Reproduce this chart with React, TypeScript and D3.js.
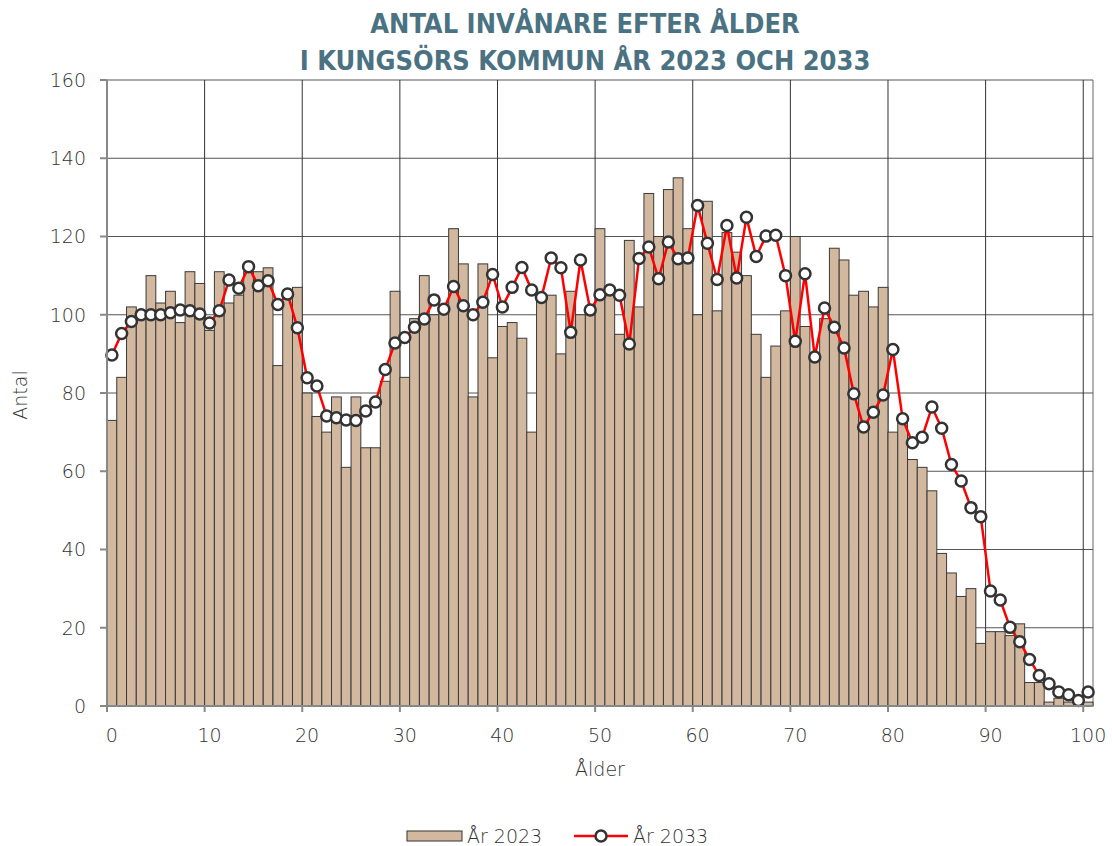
import React from "react"
import * as d3 from "d3"

// Antal invånare per ålder 0-100
const ages: number[] = d3.range(0, 101)

const year2023: number[] = [
  73, 84, 102, 101, 110, 103, 106, 98, 111, 108,
  96, 111, 103, 105, 111, 111, 112, 87, 105, 107,
  80, 74, 70, 79, 61, 79, 66, 66, 83, 106,
  84, 99, 110, 100, 101, 122, 113, 79, 113, 89,
  97, 98, 94, 70, 104, 105, 90, 106, 100, 100,
  122, 107, 95, 119, 102, 131, 120, 132, 135, 122,
  100, 129, 101, 121, 116, 110, 95, 84, 92, 101,
  120, 97, 90, 99, 117, 114, 105, 106, 102, 107,
  70, 73, 63, 61, 55, 39, 34, 28, 30, 16,
  19, 19, 18, 21, 6, 6, 1, 2, 1, 1,
  1,
]

const year2033: number[] = [
  89.7, 95.2, 98.3, 100, 100, 100, 100.5, 101.2, 101, 100.2,
  97.9, 101, 108.9, 106.8, 112.3, 107.4, 108.7, 102.6, 105.3, 96.7,
  83.9, 81.8, 74.1, 73.7, 73.1, 73, 75.4, 77.7, 86, 92.8,
  94.2, 96.8, 98.9, 103.8, 101.4, 107.2, 102.3, 100, 103.2, 110.3,
  102, 107, 112.1, 106.3, 104.4, 114.5, 112, 95.5, 114, 101.2,
  105.1, 106.3, 105, 92.5, 114.4, 117.3, 109.2, 118.6, 114.3, 114.5,
  127.9, 118.3, 109, 122.8, 109.4, 124.9, 114.9, 120.1, 120.3, 110,
  93.2, 110.5, 89.2, 101.7, 96.8, 91.5, 79.8, 71.3, 75.1, 79.5,
  91.1, 73.4, 67.3, 68.7, 76.4, 71, 61.7, 57.5, 50.7, 48.4,
  29.4, 27.1, 20.1, 16.4, 11.9, 7.8, 5.7, 3.6, 2.9, 1.4,
  3.6,
]

const yTicks: number[] = [0, 20, 40, 60, 80, 100, 120, 140, 160]
const xTickAges: number[] = [0, 10, 20, 30, 40, 50, 60, 70, 80, 90, 100]

const titleLines = ["ANTAL INVÅNARE EFTER ÅLDER", "I KUNGSÖRS KOMMUN ÅR 2023 OCH 2033"]
const seriesNames = ["År 2023", "År 2033"]

const W = 1112
const H = 846
const margin = { top: 80, right: 19, bottom: 140, left: 107 }
const font = "'DejaVu Sans', sans-serif"
const barFill = "#d3b8a0"
const textColor = "#333"

export default function App() {
  const x = d3
    .scaleBand<number>()
    .domain(ages)
    .range([margin.left, W - margin.right])
    .padding(0)
  const y = d3.scaleLinear().domain([0, 160]).range([H - margin.bottom, margin.top])
  const bw = x.bandwidth()
  const cx = (a: number) => (x(a) ?? 0) + bw / 2

  const line = d3
    .line<number>()
    .x((_, i) => cx(ages[i]))
    .y((d) => y(d))

  const x0 = margin.left
  const x1 = W - margin.right
  const yBottom = y(0)
  const yTop = y(160)

  return (
    <svg width={W} height={H} style={{ position: "absolute", left: 0, top: 0, background: "#fff" }}>
      {/* titel */}
      {titleLines.map((t, i) => (
        <text
          key={t}
          x={585}
          y={33 + i * 37}
          textAnchor="middle"
          fontFamily="'DejaVu Sans Condensed', 'DejaVu Sans', sans-serif"
          fontStretch="condensed"
          fontWeight="bold"
          fontSize={27}
          fill="#4a7282"
        >
          {t}
        </text>
      ))}

      {/* horisontella stödlinjer */}
      {yTicks.map((t) => (
        <line key={"h" + t} x1={x0} x2={x1} y1={y(t)} y2={y(t)} stroke="#555" strokeWidth={1} />
      ))}
      {/* vertikala stödlinjer */}
      {xTickAges.slice(1).map((a) => (
        <line key={"v" + a} x1={x(a)} x2={x(a)} y1={yTop} y2={yBottom} stroke="#333" strokeWidth={1} />
      ))}
      <line x1={x1} x2={x1} y1={yTop} y2={yBottom} stroke="#666" strokeWidth={1} />

      {/* staplar 2023 */}
      {year2023.map((v, i) => (
        <rect
          key={"b" + i}
          x={x(ages[i])}
          y={y(v)}
          width={bw}
          height={yBottom - y(v)}
          fill={barFill}
          stroke="#3a3a3a"
          strokeWidth={1}
        />
      ))}

      {/* linje 2033 */}
      <path d={line(year2033) ?? ""} fill="none" stroke="#ff0000" strokeWidth={2.5} />
      {year2033.map((v, i) => (
        <circle key={"c" + i} cx={cx(ages[i])} cy={y(v)} r={5.5} fill="#fff" stroke="#333" strokeWidth={2.5} />
      ))}

      {/* y-axel */}
      <line x1={x0} x2={x0} y1={yTop} y2={yBottom} stroke="#888" strokeWidth={2} />
      {yTicks.map((t) => (
        <g key={"yt" + t}>
          <line x1={x0 - 7} x2={x0} y1={y(t)} y2={y(t)} stroke="#888" strokeWidth={2} />
          <text
            x={86}
            y={y(t)}
            dy="0.36em"
            textAnchor="end"
            fontFamily={font}
            fontWeight={200}
            fontSize={19}
            fill={textColor}
          >
            {t}
          </text>
        </g>
      ))}

      {/* x-axel */}
      <line x1={x0} x2={x1} y1={yBottom} y2={yBottom} stroke="#888" strokeWidth={2} />
      {xTickAges.map((a) => (
        <g key={"xt" + a}>
          <line x1={x(a)} x2={x(a)} y1={yBottom} y2={yBottom + 6} stroke="#888" strokeWidth={2} />
          <text
            x={cx(a)}
            y={742}
            textAnchor="middle"
            fontFamily={font}
            fontWeight={200}
            fontSize={19}
            fill={textColor}
          >
            {a}
          </text>
        </g>
      ))}

      {/* axeltitlar */}
      <text x={600} y={776} textAnchor="middle" fontFamily={font} fontWeight={200} fontSize={19} fill={textColor}>
        Ålder
      </text>
      <text
        transform="translate(27,395) rotate(-90)"
        textAnchor="middle"
        fontFamily={font}
        fontWeight={200}
        fontSize={19}
        fill={textColor}
      >
        Antal
      </text>

      {/* förklaring */}
      <rect x={407} y={831} width={55} height={10} fill={barFill} stroke="#333" strokeWidth={1} />
      <text x={467} y={843} fontFamily={font} fontWeight={200} fontSize={19} fill={textColor}>
        {seriesNames[0]}
      </text>
      <line x1={574} x2={628} y1={836} y2={836} stroke="#ff0000" strokeWidth={2.5} />
      <circle cx={601} cy={836} r={5.5} fill="#fff" stroke="#333" strokeWidth={2.5} />
      <text x={633} y={843} fontFamily={font} fontWeight={200} fontSize={19} fill={textColor}>
        {seriesNames[1]}
      </text>
    </svg>
  )
}
